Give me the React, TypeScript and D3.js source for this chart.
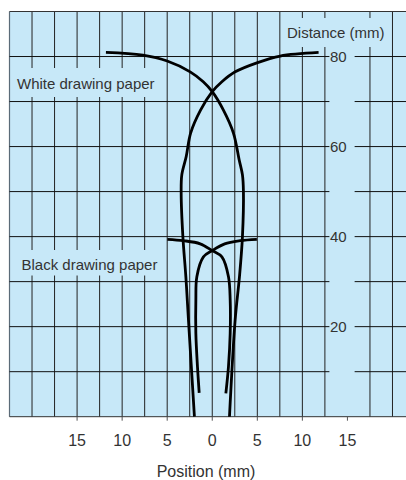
import React from 'react';
import * as d3 from 'd3';

// position (mm) vs distance (mm) for each trace
const whiteFromLeft: [number, number][] = [
  [-11.8, 80.9], [-7.7, 80.3], [-5.0, 79.0], [-2.45, 76.6], [-1.0, 74.4], [0, 72.2],
  [1.24, 68.1], [2.35, 63.0], [2.99, 57.0], [3.35, 53.7], [3.46, 50.0],
  [3.35, 40.0], [3.02, 31.1], [2.54, 21.5], [1.91, 0],
];
const whiteFromRight: [number, number][] = [
  [11.8, 80.9], [7.54, 80.1], [4.95, 78.6], [2.55, 76.6], [1.07, 74.4], [0, 72.2],
  [-1.3, 68.1], [-2.4, 63.0], [-2.89, 57.8], [-3.38, 53.7], [-3.45, 49.7],
  [-3.26, 40.0], [-2.93, 31.1], [-2.64, 21.5], [-1.98, 0],
];
const blackFromLeft: [number, number][] = [
  [-4.98, 39.4], [-3.2, 39.1], [-1.34, 38.4], [0, 36.9], [1.07, 35.5],
  [1.8, 31.1], [1.99, 25.9], [1.99, 18.5], [1.8, 11.1], [1.51, 5.2],
];
const blackFromRight: [number, number][] = [
  [4.95, 39.4], [3.1, 39.1], [1.38, 38.4], [0, 36.9], [-0.98, 35.5],
  [-1.71, 31.1], [-1.82, 25.9], [-1.82, 18.5], [-1.64, 11.1], [-1.45, 5.3],
];

const xTicks = [-15, -10, -5, 0, 5, 10, 15];
const yTicks = [20, 40, 60, 80];
const yGrid = [10, 20, 30, 40, 50, 60, 70, 80];
const xGrid = [-20, -17.5, -15, -12.5, -10, -7.5, -5, -2.5, 0, 2.5, 5, 7.5, 10, 12.5, 17.5, 20];

const W = 406;
const H = 480;
const bg = '#c7e8f8';
const font = 'Liberation Sans, Arial, sans-serif';

export default function App() {
  const x = d3.scaleLinear().domain([-22.5, 21.5]).range([9.5, 406]);
  const y = d3.scaleLinear().domain([0, 90]).range([416.7, 11.5]);

  const line = d3.line<[number, number]>()
    .x(d => x(d[0]))
    .y(d => y(d[1]))
    .curve(d3.curveCatmullRom.alpha(0.5));

  const gapL = x(13);
  const gapR = x(15.8);

  return (
    <svg width={W} height={H} style={{ position: 'absolute', left: 0, top: 0 }} fontFamily={font}>
      <rect x={x(-22.5)} y={y(90)} width={W - x(-22.5)} height={y(0) - y(90)} fill={bg} />

      {xGrid.map(v => (
        <line key={'vx' + v} x1={x(v)} x2={x(v)} y1={y(90)} y2={y(0)} stroke="#222" strokeWidth={1} />
      ))}
      <line x1={x(-22.5)} x2={x(-22.5)} y1={y(90)} y2={y(0)} stroke="#5b6b78" strokeWidth={1.2} />

      {yGrid.map(v => (
        <g key={'hy' + v}>
          <line x1={x(-22.5)} x2={gapL} y1={y(v)} y2={y(v)} stroke="#111" strokeWidth={1} />
          <line x1={gapR} x2={W} y1={y(v)} y2={y(v)} stroke="#111" strokeWidth={1} />
        </g>
      ))}
      <line x1={x(-22.5)} x2={W} y1={y(90)} y2={y(90)} stroke="#333" strokeWidth={1} />
      <line x1={x(-22.5)} x2={W} y1={y(0)} y2={y(0)} stroke="#333" strokeWidth={1} />

      {/* label boxes mask the grid */}
      <rect x={12} y={68} width={150} height={29} fill={bg} />
      <rect x={12} y={250} width={150} height={25.5} fill={bg} />
      <rect x={284} y={18} width={104} height={29} fill={bg} />

      {[whiteFromLeft, whiteFromRight, blackFromLeft, blackFromRight].map((d, i) => (
        <path key={i} d={line(d) || ''} fill="none" stroke="#000" strokeWidth={2.8} />
      ))}

      {yTicks.map(v => (
        <text key={'yt' + v} x={330} y={y(v)} dy="0.36em" fontSize={15} fill="#333">{v}</text>
      ))}

      {xTicks.map(v => (
        <g key={'xt' + v}>
          <line x1={x(v)} x2={x(v)} y1={y(0)} y2={y(0) + 4} stroke="#555" strokeWidth={1} />
          <text x={x(v)} y={446} textAnchor="middle" fontSize={16} fill="#333">{Math.abs(v)}</text>
        </g>
      ))}

      <text x={17} y={89} fontSize={15} fill="#333">White drawing paper</text>
      <text x={21.5} y={270} fontSize={15} fill="#333">Black drawing paper</text>
      <text x={287} y={38} fontSize={15} fill="#333">Distance (mm)</text>
      <text x={206} y={477} textAnchor="middle" fontSize={16} fill="#333">Position (mm)</text>
    </svg>
  );
}
